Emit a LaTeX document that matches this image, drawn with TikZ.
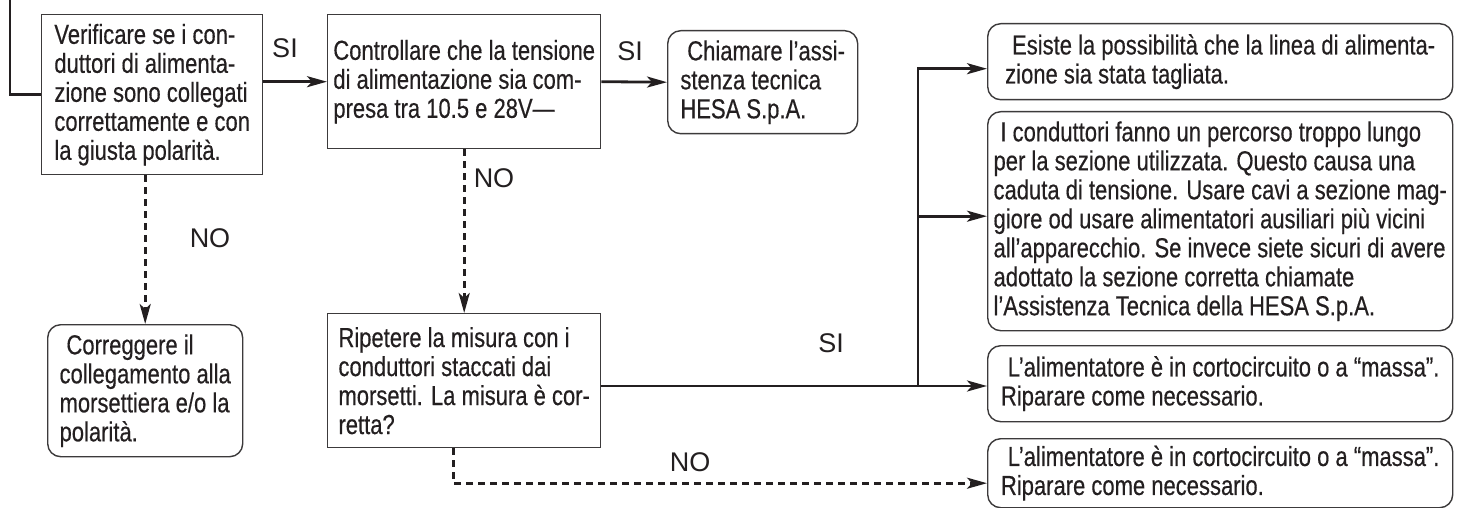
\documentclass[tikz,border=0pt]{standalone}
\usepackage{fontspec}
\setmainfont{Liberation Sans}
\newfontfamily\condfont[FakeStretch=0.8,FakeBold=0.4]{Liberation Sans}
\usetikzlibrary{arrows.meta}

\definecolor{flowink}{HTML}{231F20}
\definecolor{flowframe}{HTML}{3C3A3B}

\begin{document}
\begin{tikzpicture}[
  x=1pt,y=-1pt,
  font=\condfont\fontsize{27.5}{29}\selectfont,
  sqbox/.style={draw=flowframe,line width=1.4pt,text=flowink,align=left,
                inner sep=0pt,anchor=north west},
  rbox/.style={sqbox,rounded corners=13pt},
  wire/.style={draw=flowink,line width=2.8pt},
  flow/.style={wire,-{Stealth[length=20pt,width=11pt,inset=5pt]}},
  noflow/.style={flow,dash pattern=on 7pt off 5pt},
  answer/.style={text=flowink,font=\rmfamily\fontsize{27}{30}\selectfont}
]
  \path[use as bounding box] (0,0) rectangle (1460,508);

  % left column
  \node[sqbox,minimum width=221pt,minimum height=160pt] (check) at (41,14)
    {Verificare se i con-\\duttori di alimenta-\\zione sono collegati\\
     correttamente e con\\la giusta polarità.};
  \node[rbox,minimum width=195pt,minimum height=132pt] (corr) at (47,324)
    {\hspace*{.25em}Correggere il\\collegamento alla\\morsettiera e/o la\\polarità.};

  % middle column
  \node[sqbox,minimum width=273pt,minimum height=134pt] (volt) at (327,14)
    {Controllare che la tensione\\di alimentazione sia com-\\presa tra 10.5 e 28V—};
  \node[rbox,minimum width=190pt,minimum height=103pt] (call) at (667,30)
    {\hspace*{.25em}Chiamare l’assi-\\stenza tecnica\\HESA S.p.A.};
  \node[sqbox,minimum width=273pt,minimum height=134pt] (rip) at (327,313)
    {Ripetere la misura con i\\conduttori staccati dai\\morsetti. La misura è cor-\\retta?};

  % right column
  \node[rbox,minimum width=465pt,minimum height=76pt] (cut) at (987,23)
    {\hspace*{.25em}Esiste la possibilità che la linea di alimenta-\\zione sia stata tagliata.};
  \node[rbox,minimum width=465pt,minimum height=219pt] (drop) at (987,111)
    {\hspace*{.25em}I conduttori fanno un percorso troppo lungo\\
     per la sezione utilizzata. Questo causa una\\
     caduta di tensione. Usare cavi a sezione mag-\\
     giore od usare alimentatori ausiliari più vicini\\
     all’apparecchio. Se invece siete sicuri di avere\\
     adottato la sezione corretta chiamate\\
     l’Assistenza Tecnica della HESA S.p.A.};
  \node[rbox,minimum width=465pt,minimum height=76pt] (shortA) at (987,345)
    {\hspace*{.25em}L’alimentatore è in cortocircuito o a “massa”.\\Riparare come necessario.};
  \node[rbox,minimum width=465pt,minimum height=69pt] (shortB) at (987,438)
    {\hspace*{.25em}L’alimentatore è in cortocircuito o a “massa”.\\Riparare come necessario.};

  % answers
  \node[answer] (si1) at (285,48) {SI};
  \node[answer] (si2) at (630,51) {SI};
  \node[answer] (si3) at (831,343) {SI};
  \node[answer] (no1) at (210,238) {NO};
  \node[answer] (no2) at (494,178) {NO};
  \node[answer] (no3) at (690,462) {NO};

  % connectors
  \coordinate (entry) at (10,0);
  \coordinate (split) at (918,386);
  \draw[wire] (entry) |- (check.west);
  \draw[flow] (check.east |- volt.west) -- (volt.west);
  \draw[flow] (volt.east) -- (call.west);
  \draw[noflow] (check.south -| corr.north) -- (corr.north);
  \draw[noflow] (volt.south) -- (rip.north);
  \draw[wire] (rip.east |- split) -- (split);
  \draw[flow] (split) |- ([yshift=-7pt]cut.west);
  \draw[flow] (split |- drop.west) ++(0,-5) -- ([yshift=5pt]drop.west);
  \draw[flow] (split) -- (split -| shortA.west);
  \draw[noflow] ([xshift=-11pt]rip.south) |- ([yshift=-10pt]shortB.west);
\end{tikzpicture}
\end{document}
